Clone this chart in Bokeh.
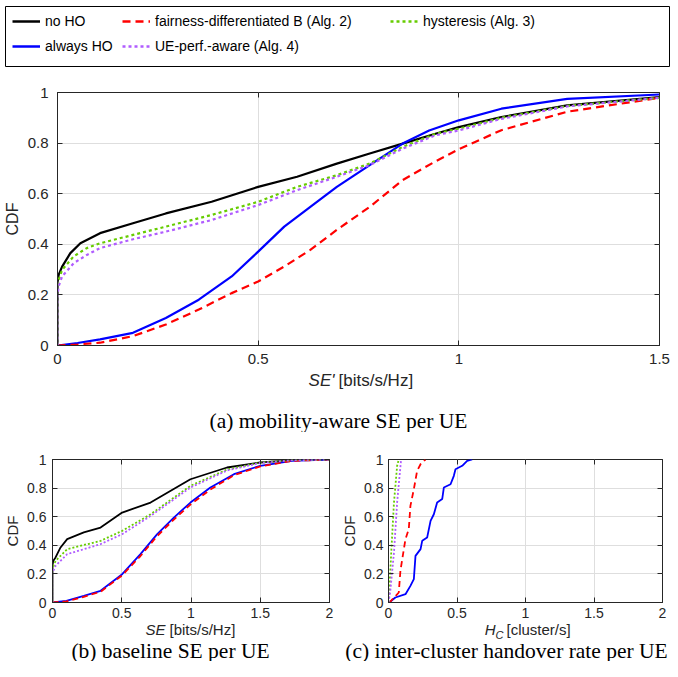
from bokeh.plotting import figure
from bokeh.models import Legend, LegendItem, FixedTicker, Range1d, LinearAxis, CustomJSTickFormatter
from bokeh.layouts import column, row
from bokeh.core.properties import value
from bokeh.embed import file_html
from bokeh.resources import INLINE

# ---------------- data ----------------
series_names = ["no HO", "always HO", "fairness-differentiated B (Alg. 2)",
                "hysteresis (Alg. 3)", "UE-perf.-aware (Alg. 4)"]

# (a) mobility-aware SE per UE
mob_noho_x = [0, 0, 0.003, 0.0115, 0.032, 0.057, 0.106, 0.188, 0.27, 0.384, 0.5, 0.597, 0.696, 0.778, 0.86, 0.942, 1.0, 1.106, 1.27, 1.5, 1.7]
mob_noho_y = [0, 0.25, 0.28, 0.312, 0.365, 0.404, 0.444, 0.483, 0.522, 0.568, 0.627, 0.667, 0.719, 0.759, 0.798, 0.837, 0.863, 0.903, 0.949, 0.982, 0.995]
mob_always_x = [0, 0.05, 0.106, 0.188, 0.27, 0.352, 0.434, 0.5, 0.565, 0.63, 0.696, 0.778, 0.86, 0.926, 1.0, 1.106, 1.27, 1.5, 1.7]
mob_always_y = [0, 0.01, 0.024, 0.05, 0.109, 0.181, 0.273, 0.371, 0.47, 0.548, 0.627, 0.713, 0.798, 0.85, 0.89, 0.936, 0.975, 0.992, 0.999]
mob_fair_x = [0, 0.05, 0.106, 0.188, 0.27, 0.352, 0.434, 0.5, 0.565, 0.63, 0.696, 0.778, 0.86, 0.942, 1.0, 1.106, 1.27, 1.5, 1.7]
mob_fair_y = [0, 0.004, 0.011, 0.037, 0.083, 0.142, 0.207, 0.253, 0.312, 0.378, 0.457, 0.548, 0.654, 0.728, 0.776, 0.851, 0.924, 0.979, 0.995]
mob_hyst_x = [0, 0, 0.003, 0.0115, 0.04, 0.073, 0.106, 0.188, 0.27, 0.384, 0.5, 0.597, 0.696, 0.778, 0.86, 0.942, 1.0, 1.106, 1.27, 1.5, 1.7]
mob_hyst_y = [0, 0.22, 0.26, 0.299, 0.352, 0.385, 0.404, 0.437, 0.47, 0.516, 0.568, 0.627, 0.673, 0.719, 0.785, 0.837, 0.857, 0.9, 0.947, 0.979, 0.995]
mob_ueperf_x = [0, 0, 0.003, 0.0115, 0.04, 0.073, 0.106, 0.188, 0.27, 0.384, 0.5, 0.597, 0.696, 0.778, 0.86, 0.942, 1.0, 1.106, 1.27, 1.5, 1.7]
mob_ueperf_y = [0, 0.2, 0.235, 0.273, 0.325, 0.358, 0.385, 0.42, 0.45, 0.496, 0.555, 0.614, 0.667, 0.713, 0.778, 0.831, 0.85, 0.896, 0.945, 0.979, 0.995]

# (b) baseline SE per UE
base_noho_x = [0, 0, 0.005, 0.022, 0.058, 0.106, 0.226, 0.347, 0.503, 0.708, 0.996, 1.26, 1.5, 1.73, 2.0]
base_noho_y = [0, 0.26, 0.29, 0.315, 0.385, 0.443, 0.49, 0.524, 0.629, 0.699, 0.862, 0.944, 0.979, 0.995, 1.0]
base_always_x = [0, 0.1, 0.226, 0.347, 0.503, 0.635, 0.756, 0.876, 0.996, 1.14, 1.31, 1.5, 1.73, 2.0]
base_always_y = [0, 0.012, 0.047, 0.082, 0.198, 0.338, 0.478, 0.594, 0.699, 0.804, 0.897, 0.956, 0.991, 1.0]
base_fair_x = [0, 0.1, 0.226, 0.347, 0.503, 0.635, 0.756, 0.876, 0.996, 1.14, 1.31, 1.5, 1.73, 2.0]
base_fair_y = [0, 0.008, 0.04, 0.075, 0.19, 0.325, 0.465, 0.58, 0.685, 0.79, 0.89, 0.952, 0.99, 1.0]
base_hyst_x = [0, 0, 0.005, 0.022, 0.106, 0.347, 0.503, 0.708, 0.996, 1.26, 1.5, 1.73, 2.0]
base_hyst_y = [0, 0.22, 0.25, 0.291, 0.373, 0.431, 0.501, 0.617, 0.816, 0.93, 0.979, 0.995, 1.0]
base_ueperf_x = [0, 0, 0.005, 0.022, 0.106, 0.347, 0.503, 0.708, 0.996, 1.26, 1.5, 1.73, 2.0]
base_ueperf_y = [0, 0.2, 0.22, 0.256, 0.338, 0.408, 0.478, 0.605, 0.804, 0.923, 0.976, 0.995, 1.0]

# (c) inter-cluster handover rate per UE
hc_always_x = [0, 0.012, 0.05, 0.124, 0.16, 0.185, 0.197, 0.234, 0.246, 0.282, 0.307, 0.331, 0.355, 0.392, 0.404, 0.453, 0.477, 0.489, 0.538, 0.574, 0.611]
hc_always_y = [0, 0.005, 0.035, 0.058, 0.116, 0.163, 0.326, 0.373, 0.431, 0.454, 0.571, 0.617, 0.699, 0.723, 0.804, 0.827, 0.886, 0.932, 0.956, 0.991, 1.0]
hc_fair_x = [0, 0.012, 0.075, 0.087, 0.112, 0.124, 0.148, 0.16, 0.185, 0.209, 0.234, 0.27]
hc_fair_y = [0, 0.005, 0.07, 0.222, 0.373, 0.443, 0.513, 0.676, 0.792, 0.921, 0.967, 1.0]
hc_hyst_x = [0, 0.005, 0.02, 0.04, 0.063, 0.075]
hc_hyst_y = [0, 0.07, 0.35, 0.7, 0.956, 1.0]
hc_ueperf_x = [0, 0.012, 0.04, 0.063, 0.083, 0.092]
hc_ueperf_y = [0, 0.07, 0.35, 0.7, 0.909, 1.0]

# ticks and texts
cdf_ticks = [0, 0.2, 0.4, 0.6, 0.8, 1]
cdf_tick_labels = ["0", "0.2", "0.4", "0.6", "0.8", "1"]
mob_ticks = [0, 0.5, 1, 1.5]
mob_tick_labels = ["0", "0.5", "1", "1.5"]
b_ticks = [0, 0.5, 1, 1.5, 2]
b_tick_labels = ["0", "0.5", "1", "1.5", "2"]
captions = ["(a) mobility-aware SE per UE", "(b) baseline SE per UE",
            "(c) inter-cluster handover rate per UE"]

# ---------------- styles ----------------
colors = ["#000000", "#0000FF", "#FF0000", "#66CC00", "#B05CFF"]
dash_big = ["solid", "solid", "8 5", "3 3", "3 3"]
dash_small = ["solid", "solid", "6 4", "2 2", "2 2"]
AX = "#262626"
SANS = "Liberation Sans"
SERIF = "Liberation Serif"
CAP = "21.5px"


def box_axis(ticks):
    return LinearAxis(ticker=FixedTicker(ticks=ticks),
                      formatter=CustomJSTickFormatter(code="return ''"),
                      major_label_text_color=None, major_label_standoff=0,
                      major_tick_in=5, major_tick_out=0, minor_tick_line_color=None,
                      axis_line_color=None, major_tick_line_color=AX)


def style(p, xt, xl, fs, ystand, xstand, lab_fs, lab_stand):
    p.xaxis.ticker = FixedTicker(ticks=xt)
    p.xaxis.major_label_overrides = dict(zip(xt, xl))
    p.yaxis.ticker = FixedTicker(ticks=cdf_ticks)
    p.yaxis.major_label_overrides = dict(zip(cdf_ticks, cdf_tick_labels))
    p.axis.major_tick_in = 5
    p.axis.major_tick_out = 0
    p.axis.minor_tick_line_color = None
    p.axis.axis_line_color = AX
    p.axis.major_tick_line_color = AX
    p.axis.major_label_text_color = AX
    p.axis.major_label_text_font = SANS
    p.axis.major_label_text_font_size = fs
    p.yaxis.major_label_standoff = ystand
    p.xaxis.major_label_standoff = xstand
    p.yaxis.axis_label = "CDF"
    p.yaxis.axis_label_text_font = SANS
    p.yaxis.axis_label_text_font_style = "normal"
    p.yaxis.axis_label_text_font_size = lab_fs
    p.yaxis.axis_label_text_color = AX
    p.yaxis.axis_label_standoff = lab_stand
    p.outline_line_color = AX
    p.outline_line_alpha = 1
    p.grid.grid_line_color = "#DEDEDE"
    p.add_layout(box_axis(cdf_ticks), "right")
    p.add_layout(box_axis(xt), "above")


def draw(p, xs, ys, lw, dashes):
    for i, (x, y) in enumerate(zip(xs, ys)):
        if len(x):
            p.line(x, y, color=colors[i], line_width=lw, line_dash=dashes[i])


def strip(w, h):
    s = figure(width=w, height=h, x_range=Range1d(0, w), y_range=Range1d(h, 0),
               x_axis_type=None, y_axis_type=None, toolbar_location=None,
               output_backend="svg", min_border=0)
    s.outline_line_color = None
    s.grid.visible = False
    return s


def txt(s, x, y, t, size, align, italic=False, font=SANS, color=AX):
    s.text(x=[x], y=[y], text=[t], text_font=value(font), text_font_size=size,
           text_align=align, text_baseline="middle", text_color=color,
           text_font_style="italic" if italic else "normal")


# ---------------- legend box ----------------
leg = figure(width=670, height=67, x_range=Range1d(0, 1), y_range=Range1d(0, 1),
             x_axis_type=None, y_axis_type=None, toolbar_location=None,
             output_backend="svg", min_border_left=5, min_border_right=0,
             min_border_top=6, min_border_bottom=1)
leg.grid.visible = False
leg.outline_line_color = "black"
leg.outline_line_width = 1
rs = [leg.line(x=[float("nan")], y=[float("nan")], color=colors[i], line_width=2.5,
               line_dash=dash_big[i]) for i in range(5)]
for grp, lx, ly in zip([[0, 1], [2, 4], [3]], [7, 117, 385], [10, 10, 35]):
    L = Legend(items=[LegendItem(label=series_names[i], renderers=[rs[i]]) for i in grp],
               location=(lx, ly), border_line_color=None, background_fill_alpha=0,
               padding=0, margin=0, spacing=5, label_height=20, glyph_height=20,
               glyph_width=28, label_standoff=5, label_text_font=SANS,
               label_text_font_size="14px", label_text_color="black")
    leg.add_layout(L, "center")

# ---------------- (a) ----------------
p1 = figure(width=670, height=302, x_range=Range1d(0, 1.5), y_range=Range1d(0, 1),
            min_border_left=57, min_border_right=11, min_border_top=25, min_border_bottom=24,
            toolbar_location=None, output_backend="svg")
style(p1, mob_ticks, mob_tick_labels, "15px", 9, 8, "16px", 4)
draw(p1, [mob_noho_x, mob_always_x, mob_fair_x, mob_hyst_x, mob_ueperf_x],
     [mob_noho_y, mob_always_y, mob_fair_y, mob_hyst_y, mob_ueperf_y], 2.2, dash_big)

sa = strip(670, 63)
txt(sa, 334, 11, "SE'", "17px", "right", italic=True)
txt(sa, 338, 11, "[bits/s/Hz]", "17px", "left")
txt(sa, 338, 51, captions[0], CAP, "center", font=SERIF, color="black")

# ---------------- (b) ----------------
p2 = figure(width=335, height=188, x_range=Range1d(0, 2), y_range=Range1d(0, 1),
            min_border_left=52, min_border_right=6, min_border_top=27, min_border_bottom=18,
            toolbar_location=None, output_backend="svg")
style(p2, b_ticks, b_tick_labels, "14px", 6, 5, "15px", 3)
draw(p2, [base_noho_x, base_always_x, base_fair_x, base_hyst_x, base_ueperf_x],
     [base_noho_y, base_always_y, base_fair_y, base_hyst_y, base_ueperf_y], 1.8, dash_small)

# ---------------- (c) ----------------
p3 = figure(width=335, height=188, x_range=Range1d(0, 2), y_range=Range1d(0, 1),
            min_border_left=53, min_border_right=8, min_border_top=27, min_border_bottom=18,
            toolbar_location=None, output_backend="svg")
style(p3, b_ticks, b_tick_labels, "14px", 5, 5, "15px", 3)
draw(p3, [[], hc_always_x, hc_fair_x, hc_hyst_x, hc_ueperf_x],
     [[], hc_always_y, hc_fair_y, hc_hyst_y, hc_ueperf_y], 1.8, dash_small)

sb = strip(670, 41)
txt(sb, 165, 9, "SE", "15px", "right", italic=True)
txt(sb, 169, 9, "[bits/s/Hz]", "15px", "left")
txt(sb, 495, 9, "H", "15px", "right", italic=True)
txt(sb, 495, 14, "C", "11px", "left", italic=True)
txt(sb, 506, 9, "[cluster/s]", "15px", "left")
txt(sb, 170, 30, captions[1], CAP, "center", font=SERIF, color="black")
txt(sb, 506, 30, captions[2], CAP, "center", font=SERIF, color="black")

layout = column(row(leg), row(p1), row(sa), row(p2, p3, spacing=0), row(sb), spacing=0)
open("out.html", "w").write(file_html(layout, INLINE))
